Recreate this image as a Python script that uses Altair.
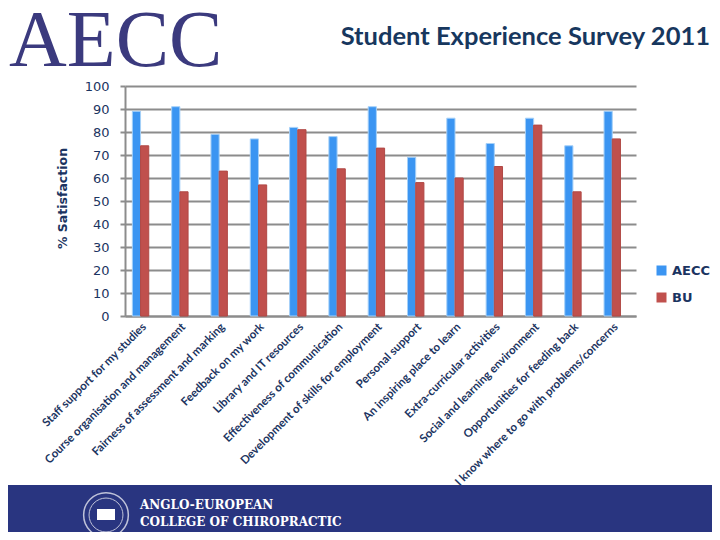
import altair as alt
import pandas as pd

categories = [
    "Staff support for my studies",
    "Course organisation and management",
    "Fairness of assessment and marking",
    "Feedback on my work",
    "Library and IT resources",
    "Effectiveness of communication",
    "Development of skills for employment",
    "Personal support",
    "An inspiring place to learn",
    "Extra-curricular activities",
    "Social and learning environment",
    "Opportunities for feeding back",
    "I know where to go with problems/concerns",
]
aecc = [89, 91, 79, 77, 82, 78, 91, 69, 86, 75, 86, 74, 89]
bu = [74, 54, 63, 57, 81, 64, 73, 58, 60, 65, 83, 54, 77]
series = ["AECC", "BU"]
fill_colors = ["#3B95F2", "#C0504D"]
edge_colors = ["#A5D0F8", "#B04845"]
y_ticks = list(range(0, 101, 10))
banner_lines = ["ANGLO-EUROPEAN", "COLLEGE OF CHIROPRACTIC"]

rows = []
for c, a, b in zip(categories, aecc, bu):
    rows.append({"cat": c, "series": "AECC", "val": a})
    rows.append({"cat": c, "series": "BU", "val": b})
df = pd.DataFrame(rows)

NAVY = "#1B3461"
GRID = "#8C8C8C"
W, H = 511, 230

bars = alt.Chart(df).mark_bar(strokeWidth=1).encode(
    x=alt.X(
        "cat:N",
        sort=categories,
        scale=alt.Scale(paddingInner=0.374, paddingOuter=0.187),
        axis=alt.Axis(
            title=None, labelAngle=315, labelAlign="right", labelBaseline="middle",
            labelPadding=9, labelFont="Lato", labelFontWeight="bold", labelFontSize=11.5,
            labelColor=NAVY, labelLimit=400, labelOverlap=False, labelBound=False,
            ticks=False, grid=False, domainColor=GRID, domainWidth=2,
        ),
    ),
    xOffset=alt.XOffset(
        "series:N",
        scale=alt.Scale(domain=["AECC", "BU", "_"], paddingInner=0, paddingOuter=0),
    ),
    y=alt.Y(
        "val:Q",
        scale=alt.Scale(domain=[0, 100], nice=False),
        axis=alt.Axis(
            values=y_ticks, title="% Satisfaction", grid=True, gridColor=GRID, gridWidth=2,
            domainColor=GRID, domainWidth=2, tickColor=GRID, tickWidth=2, tickSize=5,
            labelFont="DejaVu Sans", labelFontSize=13, labelColor=NAVY, labelPadding=11,
            titleFont="DejaVu Sans", titleFontWeight="bold", titleFontSize=12.5, titleColor=NAVY,
            titleAngle=270, titleX=-63, titleY=112, titleAlign="center", titleBaseline="middle",
        ),
    ),
    color=alt.Color(
        "series:N",
        scale=alt.Scale(domain=series, range=fill_colors),
        legend=alt.Legend(
            title=None, orient="none", legendX=530, legendY=178, symbolType="square",
            symbolSize=100, symbolStrokeWidth=0, labelFont="DejaVu Sans", labelFontWeight="bold",
            labelFontSize=13, labelColor=NAVY, rowPadding=13, labelOffset=4, padding=0,
        ),
    ),
    stroke=alt.Stroke("series:N", scale=alt.Scale(domain=series, range=edge_colors), legend=None),
)

one = pd.DataFrame({"t": ["x"]})

logo = alt.Chart(pd.DataFrame({"t": ["AECC"]})).mark_text(
    font="Liberation Serif", fontSize=80, color="#3B3A7E", align="left", baseline="alphabetic"
).encode(x=alt.value(-116), y=alt.value(-20), text="t:N")

title = alt.Chart(pd.DataFrame({"t": ["Student Experience Survey 2011"]})).mark_text(
    font="Lato", fontWeight="bold", fontSize=25.5, color="#17375E", align="right", baseline="alphabetic"
).encode(x=alt.value(585), y=alt.value(-41), text="t:N")

banner = alt.Chart(one).mark_rect(color="#293580").encode(
    x=alt.value(-117), x2=alt.value(590), y=alt.value(399), y2=alt.value(470)
)

banner_text = alt.Chart(pd.DataFrame({"t": banner_lines, "yy": [423, 440]})).mark_text(
    font="DejaVu Serif", fontWeight="bold", fontSize=12, color="white", align="left",
    baseline="alphabetic"
).encode(x=alt.value(15), y=alt.Y("yy:Q", scale=None), text="t:N")

ring_outer = alt.Chart(one).mark_point(shape="circle", size=2000, filled=False, color="white", strokeWidth=1.5).encode(
    x=alt.value(-19), y=alt.value(429)
)
ring_inner = alt.Chart(one).mark_point(shape="circle", size=1150, filled=False, color="white", strokeWidth=1).encode(
    x=alt.value(-19), y=alt.value(429)
)
book = alt.Chart(one).mark_rect(color="white").encode(
    x=alt.value(-28), x2=alt.value(-10), y=alt.value(423), y2=alt.value(434)
)

chart = alt.layer(bars, logo, title, banner, banner_text, ring_outer, ring_inner, book).properties(
    width=W, height=H,
    padding={"left": 117, "top": 78, "right": 76, "bottom": 216},
    autosize=alt.AutoSizeParams(type="none"),
).configure_view(stroke=None)

chart.save("out.html", embed_options={"renderer": "svg", "actions": False})
